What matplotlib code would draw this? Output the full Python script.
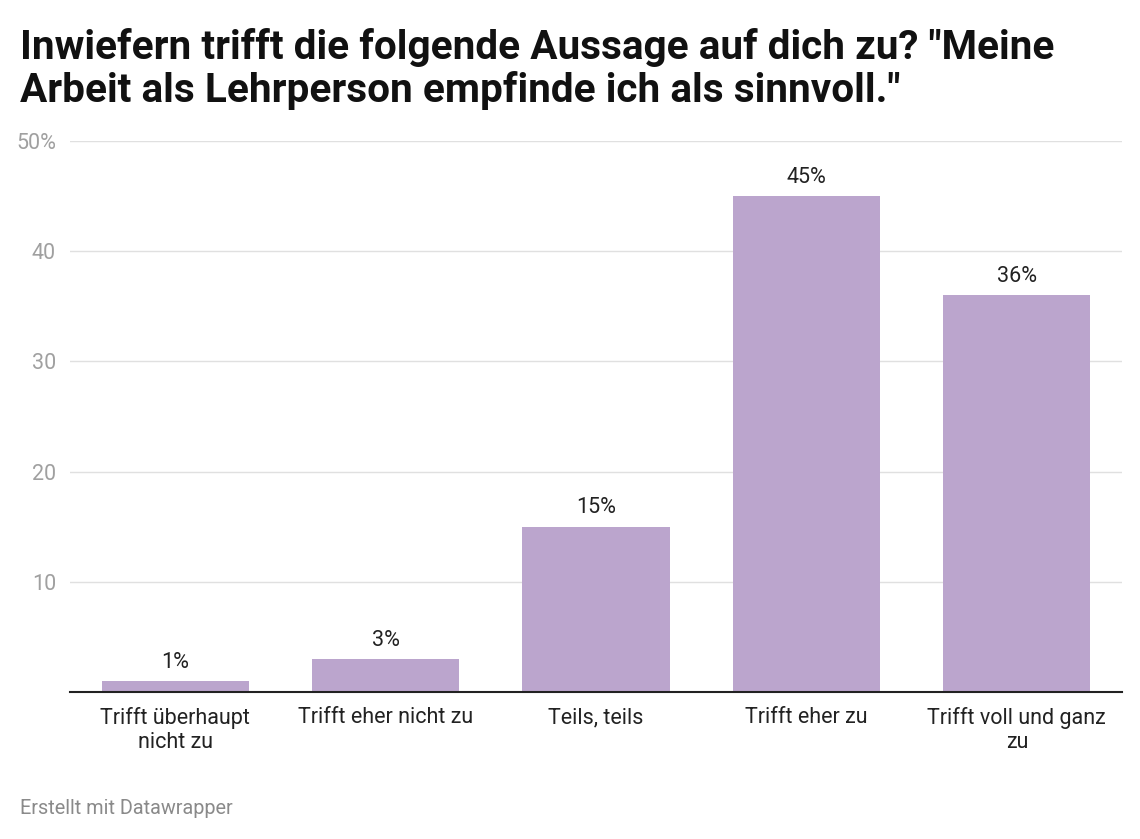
import matplotlib.pyplot as plt

plt.rcParams['font.family'] = ['Roboto', 'DejaVu Sans']

categories = ['Trifft überhaupt\nnicht zu', 'Trifft eher nicht zu', 'Teils, teils',
              'Trifft eher zu', 'Trifft voll und ganz\nzu']
values = [1, 3, 15, 45, 36]
yticks = [10, 20, 30, 40, 50]
ytick_labels = ['10', '20', '30', '40', '50%']

fig = plt.figure(figsize=(11.4, 8.39), dpi=100)
ax = fig.add_axes([70/1140, 147/839, 1052/1140, 551/839])

x = range(len(values))
ax.bar(x, values, width=0.70, color='#bba5cd', zorder=2)
for i, v in enumerate(values):
    ax.annotate(f'{v}%', (i, v), xytext=(0, 6), textcoords='offset points',
                ha='center', va='bottom', fontsize=15.5, color='#222222')

ax.set_xlim(-0.5, len(values) - 0.5)
ax.set_ylim(0, 50)
ax.set_yticks(yticks)
ax.set_yticklabels(ytick_labels)
ax.set_xticks(list(x))
ax.set_xticklabels(categories, fontsize=15.5, color='#222222', linespacing=1.2)
ax.tick_params(axis='x', length=0, pad=11)
ax.tick_params(axis='y', length=0, pad=10, labelsize=15.5, labelcolor='#a0a0a0')
ax.grid(axis='y', color='#e0e0e0', linewidth=1, zorder=0)
for s in ['top', 'right', 'left']:
    ax.spines[s].set_visible(False)
ax.spines['bottom'].set_color('#222222')
ax.spines['bottom'].set_linewidth(1.5)
ax.spines['bottom'].set_zorder(3)

fig.text(20/1140, 1 - 28/839,
         'Inwiefern trifft die folgende Aussage auf dich zu? "Meine\nArbeit als Lehrperson empfinde ich als sinnvoll."',
         fontsize=29.2, fontweight='bold', va='top', ha='left', color='#111111', linespacing=1.14)
fig.text(20/1140, 1 - 808/839, 'Erstellt mit Datawrapper', fontsize=14.3,
         color='#8a8a8a', va='center', ha='left')

fig.savefig('out.png', dpi=100, facecolor='white')
